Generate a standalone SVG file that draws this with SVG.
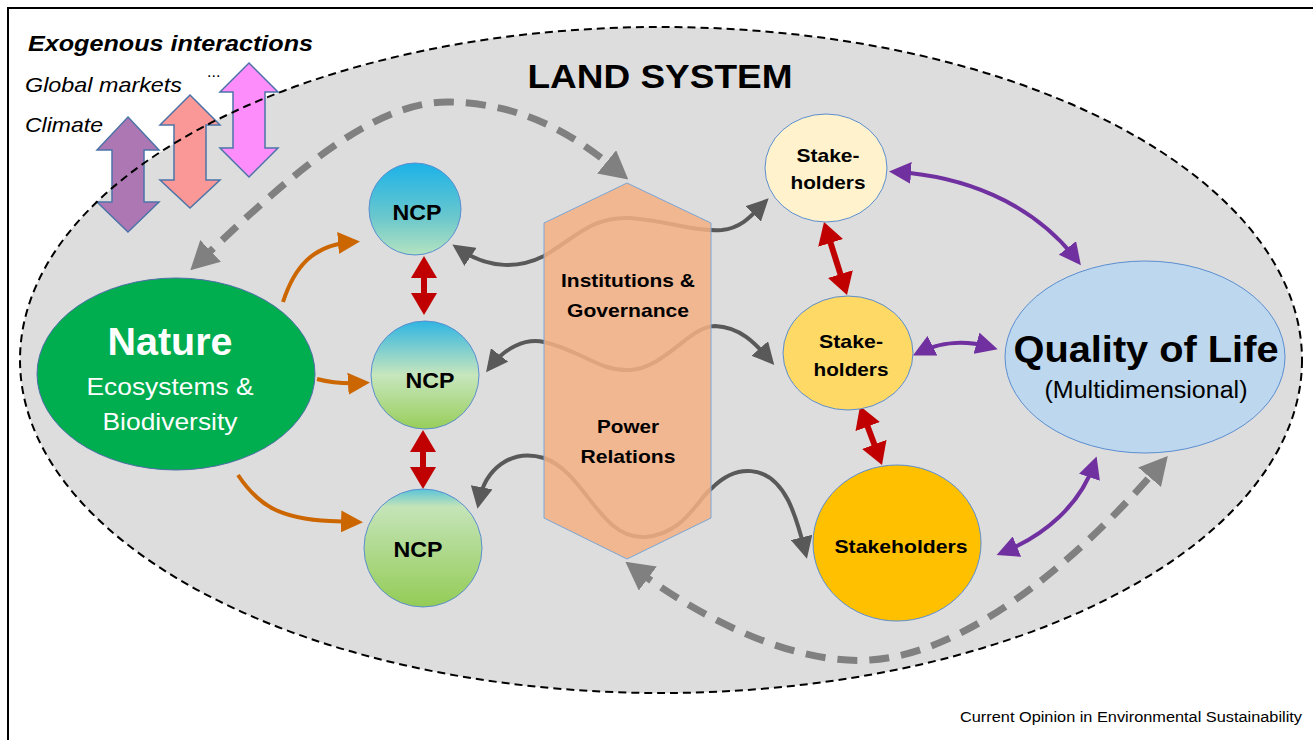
<svg xmlns="http://www.w3.org/2000/svg" width="1313" height="740" viewBox="0 0 1313 740">
<style>
text{font-family:"Liberation Sans",Arial,sans-serif;fill:#000}
.b{font-weight:bold}
.i{font-style:italic}
.c{text-anchor:middle}
.w{fill:#fff}
.exo{stroke:#4c74a8;stroke-width:1.5}
.g{fill:none;stroke:#595959;stroke-width:4}
.o{fill:none;stroke:#cc6600;stroke-width:4}
.p{fill:none;stroke:#7030a0;stroke-width:4}
.r{fill:none;stroke:#c00000;stroke-width:6}
.d{fill:none;stroke:#808080;stroke-width:7;stroke-dasharray:20 12}
.node{stroke:#5b8ed0;stroke-width:1}
</style>
<defs>
<marker id="mG" markerUnits="userSpaceOnUse" markerWidth="22" markerHeight="22" refX="14" refY="11" orient="auto-start-reverse"><path d="M0,0 L22,11 L0,22 z" fill="#595959"/></marker>
<marker id="mO" markerUnits="userSpaceOnUse" markerWidth="22" markerHeight="22" refX="14" refY="11" orient="auto-start-reverse"><path d="M0,0 L22,11 L0,22 z" fill="#cc6600"/></marker>
<marker id="mP" markerUnits="userSpaceOnUse" markerWidth="22" markerHeight="22" refX="14" refY="11" orient="auto-start-reverse"><path d="M0,0 L22,11 L0,22 z" fill="#7030a0"/></marker>
<marker id="mR" markerUnits="userSpaceOnUse" markerWidth="22" markerHeight="26" refX="14" refY="13" orient="auto-start-reverse"><path d="M0,0 L22,13 L0,26 z" fill="#c00000"/></marker>
<marker id="mD" markerUnits="userSpaceOnUse" markerWidth="28" markerHeight="30" refX="16" refY="15" orient="auto-start-reverse"><path d="M0,0 L28,15 L0,30 z" fill="#808080"/></marker>
<linearGradient id="n1" x1="0" y1="0" x2="0" y2="1"><stop offset="0" stop-color="#1cb2e8"/><stop offset="0.6" stop-color="#6cc8cc"/><stop offset="1" stop-color="#b5e3c0"/></linearGradient>
<linearGradient id="n2" x1="0" y1="0" x2="0" y2="1"><stop offset="0" stop-color="#2fb5e2"/><stop offset="0.5" stop-color="#c7e6bd"/><stop offset="1" stop-color="#98ce5a"/></linearGradient>
<linearGradient id="n3" x1="0" y1="0" x2="0" y2="1"><stop offset="0" stop-color="#5ac4d8"/><stop offset="0.15" stop-color="#c4e4b8"/><stop offset="1" stop-color="#94cc56"/></linearGradient>
</defs>
<rect x="0" y="0" width="1313" height="740" fill="#fff"/>
<rect x="8" y="8" width="1320" height="760" fill="none" stroke="#000" stroke-width="2"/>

<g id="land-system-fill">
<ellipse cx="661" cy="360" rx="641" ry="333" fill="#dddddd"/>
</g>

<g id="exogenous">
<polygon class="exo" fill="#ad77b3" points="128,117 159,150 144,150 144,202 159,202 128,232 97,202 112,202 112,150 97,150"/>
<polygon class="exo" fill="#f99896" points="190,95 220,125 206,125 206,180 220,180 190,208 160,180 174,180 174,125 160,125"/>
<polygon class="exo" fill="#fc8dfb" points="249,63 278,92 265,92 265,148 278,148 249,177 220,148 233,148 233,92 220,92"/>
<text class="b i" x="28" y="51" font-size="22" textLength="285" lengthAdjust="spacingAndGlyphs">Exogenous interactions</text>
<text class="i" x="25" y="92" font-size="21" textLength="157" lengthAdjust="spacingAndGlyphs">Global markets</text>
<text class="i" x="25" y="132" font-size="21" textLength="78" lengthAdjust="spacingAndGlyphs">Climate</text>
<text x="207" y="77" font-size="16">...</text>
</g>

<g id="land-system-border">
<ellipse cx="661" cy="360" rx="641" ry="333" fill="none" stroke="#000" stroke-width="2" stroke-dasharray="8 5"/>
<text class="b c" x="660" y="88" font-size="34" textLength="265" lengthAdjust="spacingAndGlyphs">LAND SYSTEM</text>
</g>

<g id="connectors">
<path class="d" d="M199,262 C280,185 370,100 450,102 C530,104 580,140 619,172" marker-start="url(#mD)" marker-end="url(#mD)"/>
<path class="d" d="M635,569 C710,625 800,665 870,660 C960,655 1070,570 1160,465" marker-start="url(#mD)" marker-end="url(#mD)"/>
<path class="g" d="M459,249 C490,270 520,268 544,256 C575,238 592,216 630,218 C668,221 695,232 722,230 C742,228 752,215 763,204" marker-start="url(#mG)" marker-end="url(#mG)"/>
<path class="g" d="M491,366 C505,348 525,338 544,342 C580,350 600,372 630,370 C665,368 690,326 715,326 C740,327 755,343 769,359" marker-start="url(#mG)" marker-end="url(#mG)"/>
<path class="g" d="M479,501 C485,470 510,448 544,458 C585,472 600,540 645,537 C685,534 698,498 712,488 C735,465 768,462 788,500 C796,516 801,535 805,551" marker-start="url(#mG)" marker-end="url(#mG)"/>
<path class="o" d="M283,302 C294,268 312,245 352,242" marker-end="url(#mO)"/>
<path class="o" d="M317,379 C332,383 345,384 362,383" marker-end="url(#mO)"/>
<path class="o" d="M238,475 C258,505 280,519 330,521 L355,522" marker-end="url(#mO)"/>
<path class="r" d="M424,264 L424,307" marker-start="url(#mR)" marker-end="url(#mR)"/>
<path class="r" d="M423,438 L423,481" marker-start="url(#mR)" marker-end="url(#mR)"/>
<path class="r" d="M826.4,229.6 L844.6,287.4" marker-start="url(#mR)" marker-end="url(#mR)"/>
<path class="r" d="M862.8,413.5 L879.2,457.5" marker-start="url(#mR)" marker-end="url(#mR)"/>
<path class="p" d="M897,172 C960,176 1030,200 1076,259" marker-start="url(#mP)" marker-end="url(#mP)"/>
<path class="p" d="M920,352 C940,342 965,340 990,347" marker-start="url(#mP)" marker-end="url(#mP)"/>
<path class="p" d="M1004,552 C1045,535 1080,505 1094,464" marker-start="url(#mP)" marker-end="url(#mP)"/>
</g>

<g id="institutions">
<polygon points="627,183 711,223 711,518 627,559 544,518 544,223" fill="#f4b183" fill-opacity="0.86" stroke="#7aa6d6" stroke-width="1"/>
<text class="b c" x="628" y="287" font-size="19" textLength="134" lengthAdjust="spacingAndGlyphs">Institutions &amp;</text>
<text class="b c" x="628" y="317" font-size="19" textLength="122" lengthAdjust="spacingAndGlyphs">Governance</text>
<text class="b c" x="628" y="433" font-size="19" textLength="62" lengthAdjust="spacingAndGlyphs">Power</text>
<text class="b c" x="628" y="463" font-size="19" textLength="95" lengthAdjust="spacingAndGlyphs">Relations</text>
</g>

<g id="nature">
<ellipse cx="176" cy="374" rx="139" ry="96" fill="#00ad4f" stroke="#4f6fa8" stroke-width="1"/>
<text class="b c w" x="170" y="355" font-size="38" textLength="125" lengthAdjust="spacingAndGlyphs">Nature</text>
<text class="c w" x="170" y="395" font-size="24" textLength="167" lengthAdjust="spacingAndGlyphs">Ecosystems &amp;</text>
<text class="c w" x="170" y="430" font-size="24" textLength="135" lengthAdjust="spacingAndGlyphs">Biodiversity</text>
</g>

<g id="ncp1">
<circle class="node" cx="415" cy="209" r="46" fill="url(#n1)"/>
<text class="b c" x="417" y="220" font-size="22" textLength="49" lengthAdjust="spacingAndGlyphs">NCP</text>
</g>
<g id="ncp2">
<circle class="node" cx="425" cy="375" r="54" fill="url(#n2)"/>
<text class="b c" x="430" y="388" font-size="22" textLength="49" lengthAdjust="spacingAndGlyphs">NCP</text>
</g>
<g id="ncp3">
<circle class="node" cx="423" cy="548" r="59" fill="url(#n3)"/>
<text class="b c" x="418" y="557" font-size="22" textLength="49" lengthAdjust="spacingAndGlyphs">NCP</text>
</g>

<g id="stakeholders1">
<ellipse class="node" cx="826" cy="168" rx="61" ry="54" fill="#fff2cc"/>
<text class="b c" x="828" y="162" font-size="19" textLength="63" lengthAdjust="spacingAndGlyphs">Stake-</text>
<text class="b c" x="828" y="189" font-size="19" textLength="75" lengthAdjust="spacingAndGlyphs">holders</text>
</g>
<g id="stakeholders2">
<ellipse class="node" cx="848" cy="353" rx="65" ry="57" fill="#ffd966"/>
<text class="b c" x="851" y="348" font-size="19" textLength="64" lengthAdjust="spacingAndGlyphs">Stake-</text>
<text class="b c" x="851" y="376" font-size="19" textLength="75" lengthAdjust="spacingAndGlyphs">holders</text>
</g>
<g id="stakeholders3">
<ellipse class="node" cx="897" cy="543" rx="84" ry="78" fill="#ffc000"/>
<text class="b c" x="901" y="553" font-size="19" textLength="133" lengthAdjust="spacingAndGlyphs">Stakeholders</text>
</g>

<g id="quality-of-life">
<ellipse class="node" cx="1145" cy="357" rx="140" ry="96" fill="#bdd7ee"/>
<text class="b c" x="1146" y="362" font-size="36" textLength="265" lengthAdjust="spacingAndGlyphs">Quality of Life</text>
<text class="c" x="1146" y="398" font-size="23" textLength="203" lengthAdjust="spacingAndGlyphs">(Multidimensional)</text>
</g>

<text x="960" y="722" font-size="14" fill="#222" textLength="342" lengthAdjust="spacingAndGlyphs">Current Opinion in Environmental Sustainability</text>
</svg>
